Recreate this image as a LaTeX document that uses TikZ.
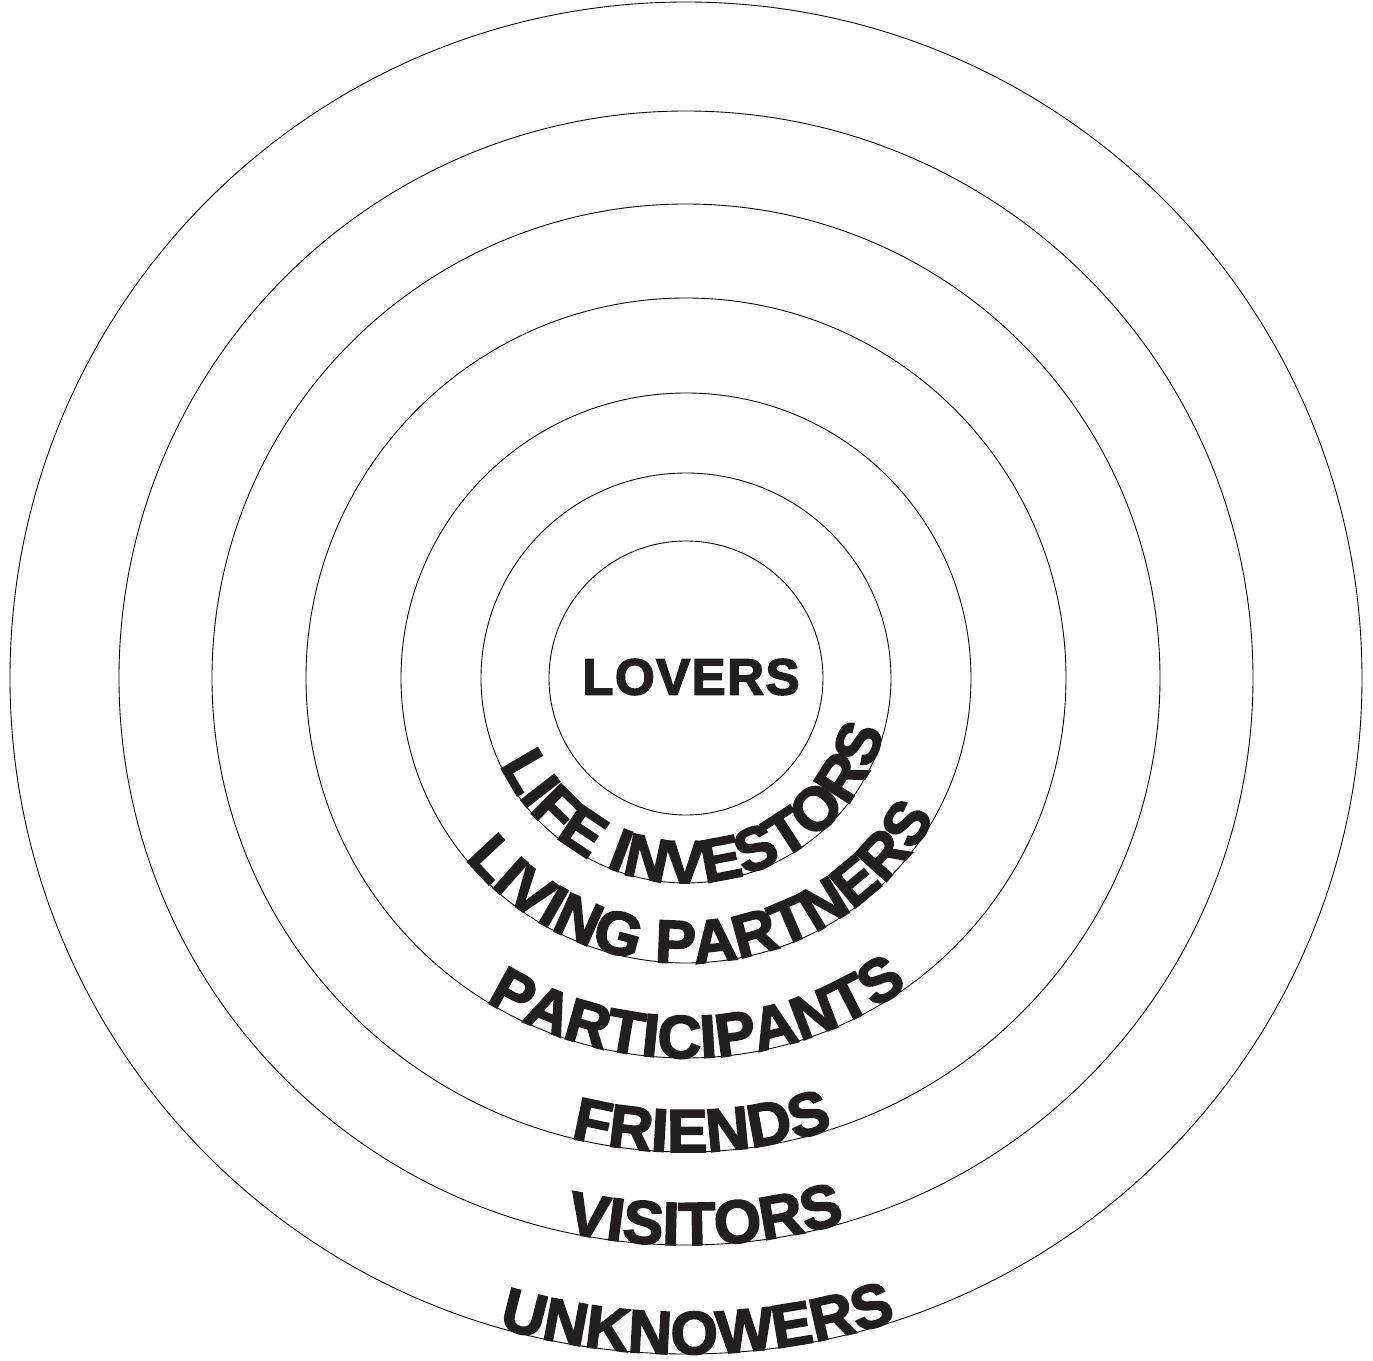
\documentclass[tikz,border=0pt]{standalone}
\usepackage{fontspec}
\setmainfont{Liberation Sans}
\newfontface\heavyface[FakeBold=3,LetterSpace=3]{Liberation Sans Bold}
\usetikzlibrary{decorations.text}
\definecolor{inkblack}{HTML}{231F20}
\newcommand{\ringfont}{\fontsize{34.5}{37}\heavyface}
\tikzset{
	ringtext/.style={decorate,decoration={text along path,text align=center,text color=inkblack,
		text={|\ringfont|#1}}}
}

\begin{document}
\begin{tikzpicture}[x=0.02cm,y=0.02cm,line width=0.5pt]
	\useasboundingbox (-686,-682) rectangle (687,678);

	%circles
	\draw (0,0) circle (676);		%unknowers
	\draw (0,0) circle (567);		%visitors
	\draw (0,0) circle (474);		%friends
	\draw (0,0) circle (380);		%participants
	\draw (0,0) circle (285);		%living partners
	\draw (0,0) circle (205);		%life investors
	\draw (0,0) circle (137);		%lovers

	%centre label
	\node[text=inkblack,font=\fontsize{29}{32}\heavyface] (lovers) at (5,1) {LOVERS};

	%curved labels, baseline on each circle
	\path[ringtext={LIFE INVESTORS}] (190:205) arc[start angle=190,end angle=360,radius=205];
	\path[ringtext={LIVING PARTNERS}] (200:285) arc[start angle=200,end angle=350,radius=285];
	\path[ringtext={PARTICIPANTS}] (212:380) arc[start angle=212,end angle=332,radius=380];
	\path[ringtext={FRIENDS}] (232:474) arc[start angle=232,end angle=312,radius=474];
	\path[ringtext={VISITORS}] (232:567) arc[start angle=232,end angle=312,radius=567];
	\path[ringtext={UNKNOWERS}] (231:676) arc[start angle=231,end angle=311,radius=676];
\end{tikzpicture}
\end{document}
